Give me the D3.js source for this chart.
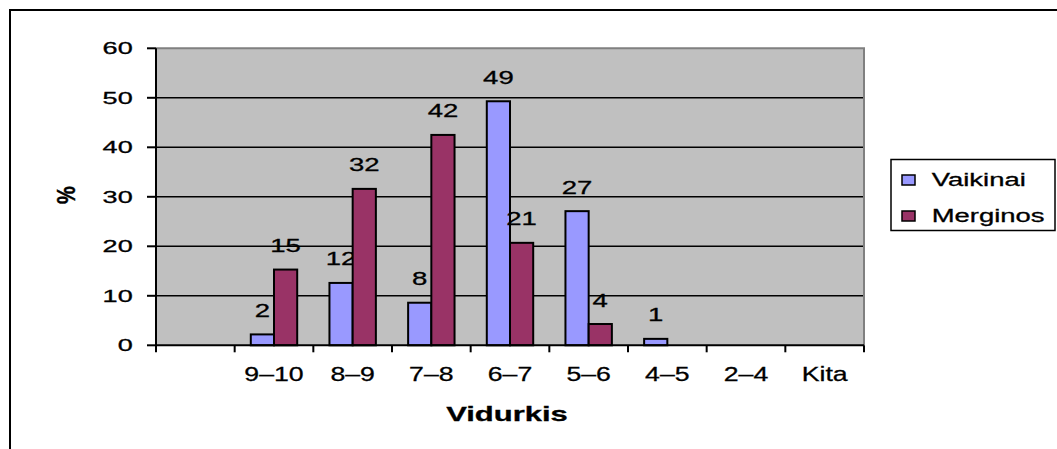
<!DOCTYPE html>
<html>
<head>
<meta charset="utf-8">
<script src="https://cdn.jsdelivr.net/npm/d3@7"></script>
<style>
  body { margin: 0; background: #fff; }
  text { font-family: "Liberation Sans", Arial, sans-serif; fill: #000; stroke: #000; stroke-width: 0.3px; }
</style>
</head>
<body>
<div id="chart"></div>
<script>
// categories (first one is blank in the original sheet)
var categories = ["", "9\u201310", "8\u20139", "7\u20138", "6\u20137", "5\u20136", "4\u20135", "2\u20134", "Kita"];
var seriesNames = ["Vaikinai", "Merginos"];
var vaikinai = [null, 2.2, 12.6, 8.6, 49.3, 27.1, 1.3, null, null];
var merginos = [null, 15.3, 31.6, 42.5, 20.7, 4.3, null, null, null];
var vaikinaiLabels = ["", "2", "12", "8", "49", "27", "1", "", ""];
var merginosLabels = ["", "15", "32", "42", "21", "4", "", "", ""];
var yTicks = [0, 10, 20, 30, 40, 50, 60];
var colors = ["#9999FF", "#993366"];

var width = 1057,
    height = 449;

var svg = d3.select("#chart").append("svg")
    .attr("width", width)
    .attr("height", height);

// outer chart frame (runs off the right and bottom edge)
svg.append("rect")
    .attr("x", 10).attr("y", 10)
    .attr("width", 1200).attr("height", 600)
    .attr("fill", "#fff")
    .attr("stroke", "#000")
    .attr("stroke-width", 2);

var plot = { left: 156, right: 864, top: 48.3, bottom: 345.3 };

var x = d3.scaleBand().domain(categories).range([plot.left, plot.right]).padding(0);
var y = d3.scaleLinear().domain([0, 60]).range([plot.bottom, plot.top]);

var bw = x.bandwidth(),
    barW = bw * 0.295,
    groupOff = (bw - 2 * barW) / 2;

// stretched text helper, the original is rendered wider than normal
function stext(g, tx, ty, str, size, sx, anchor, weight) {
    return g.append("text")
        .attr("transform", "translate(" + tx + "," + ty + ") scale(" + sx + ",1)")
        .attr("text-anchor", anchor || "start")
        .attr("font-size", size)
        .attr("font-weight", weight || "normal")
        .text(str);
}

// plot area
svg.append("rect")
    .attr("x", plot.left).attr("y", plot.top)
    .attr("width", plot.right - plot.left)
    .attr("height", plot.bottom - plot.top)
    .attr("fill", "#C0C0C0");

// gridlines
svg.selectAll("line.grid").data(yTicks.filter(function(d) { return d > 0 && d < 60; }))
    .enter().append("line")
    .attr("class", "grid")
    .attr("x1", plot.left).attr("x2", plot.right)
    .attr("y1", function(d) { return y(d); })
    .attr("y2", function(d) { return y(d); })
    .attr("stroke", "#000")
    .attr("stroke-width", 1.5);

// gray border top/right
svg.append("path")
    .attr("d", "M" + plot.left + "," + y(60) + "H" + plot.right + "V" + plot.bottom)
    .attr("fill", "none")
    .attr("stroke", "#808080")
    .attr("stroke-width", 2);

// bars
var series = [vaikinai, merginos];
var labels = [vaikinaiLabels, merginosLabels];
series.forEach(function(vals, s) {
    var data = categories.map(function(c, i) { return { cat: c, v: vals[i], label: labels[s][i] }; })
        .filter(function(d) { return d.v != null; });

    svg.selectAll("rect.bar" + s).data(data)
        .enter().append("rect")
        .attr("class", "bar" + s)
        .attr("x", function(d) { return x(d.cat) + groupOff + s * barW; })
        .attr("y", function(d) { return y(d.v); })
        .attr("width", barW)
        .attr("height", function(d) { return y(0) - y(d.v); })
        .attr("fill", colors[s])
        .attr("stroke", "#000")
        .attr("stroke-width", 2);

    data.forEach(function(d) {
        stext(svg, x(d.cat) + groupOff + s * barW + barW / 2, y(d.v) - 17.5, d.label, 18.6, 1.48, "middle");
    });
});

// y axis
svg.append("line")
    .attr("x1", plot.left).attr("x2", plot.left)
    .attr("y1", plot.top).attr("y2", plot.bottom)
    .attr("stroke", "#000").attr("stroke-width", 2);
yTicks.forEach(function(t) {
    svg.append("line")
        .attr("x1", plot.left - 9).attr("x2", plot.left)
        .attr("y1", y(t)).attr("y2", y(t))
        .attr("stroke", "#000").attr("stroke-width", 2);
    stext(svg, 132.7, y(t) + 5.8, t, 16.3, 1.66, "end");
});

// x axis
svg.append("line")
    .attr("x1", plot.left).attr("x2", plot.right)
    .attr("y1", plot.bottom).attr("y2", plot.bottom)
    .attr("stroke", "#000").attr("stroke-width", 2);
categories.concat(["end"]).forEach(function(c, i) {
    var tx = i < categories.length ? x(c) : plot.right;
    svg.append("line")
        .attr("x1", tx).attr("x2", tx)
        .attr("y1", plot.bottom).attr("y2", plot.bottom + 7)
        .attr("stroke", "#000").attr("stroke-width", 2);
});
categories.forEach(function(c) {
    if (c) stext(svg, x(c) + bw / 2, 381, c, 20.5, 1.3, "middle");
});

// axis titles
stext(svg, 507, 421, "Vidurkis", 20, 1.55, "middle", "bold");
svg.append("text")
    .attr("transform", "translate(75,195) scale(1.3,1) rotate(-90)")
    .attr("text-anchor", "middle")
    .attr("font-size", 20)
    .attr("font-weight", "bold")
    .text("%");

// legend
var legend = svg.append("g");
legend.append("rect")
    .attr("x", 891).attr("y", 159.5)
    .attr("width", 164).attr("height", 71)
    .attr("fill", "#fff")
    .attr("stroke", "#000")
    .attr("stroke-width", 1.5);
seriesNames.forEach(function(n, i) {
    legend.append("rect")
        .attr("x", 902).attr("y", 175 + i * 36)
        .attr("width", 13).attr("height", 10)
        .attr("fill", colors[i])
        .attr("stroke", "#000")
        .attr("stroke-width", 1.5);
    stext(legend, 931.7, 186 + i * 36, n, 18.8, 1.46, "start");
});
</script>
</body>
</html>
